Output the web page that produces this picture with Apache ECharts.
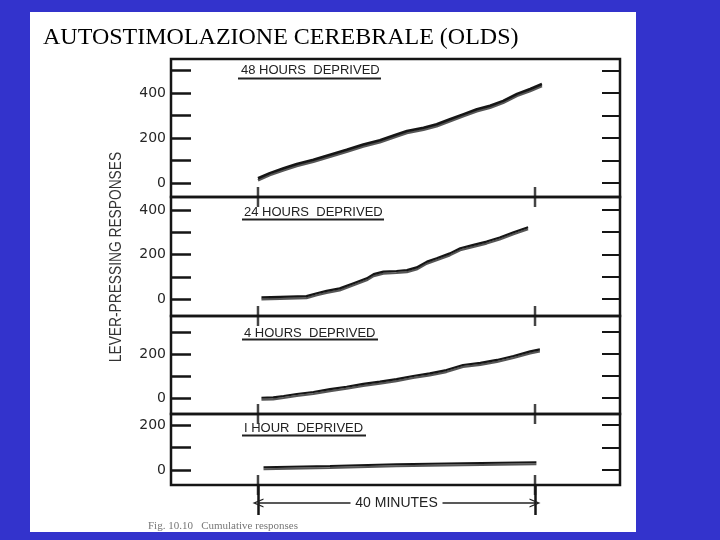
<!DOCTYPE html>
<html><head><meta charset="utf-8">
<script src="https://cdn.jsdelivr.net/npm/echarts@6/dist/echarts.min.js"></script>
<style>html,body{margin:0;padding:0;background:#3333cc}#c{width:720px;height:540px}</style>
</head><body><div id="c"></div>
<script>
// ---------- data ----------
const titleText = 'AUTOSTIMOLAZIONE CEREBRALE (OLDS)';
const yAxisTitle = 'LEVER-PRESSING RESPONSES';
const panelLabels = ['48 HOURS  DEPRIVED', '24 HOURS  DEPRIVED', '4 HOURS  DEPRIVED', 'I HOUR  DEPRIVED'];

const minutes48   = [0, 1.7, 3.7, 5.6, 8.0, 10.4, 12.8, 15.2, 17.6, 20.0, 21.5, 23.9, 25.8, 27.7, 29.7, 31.6, 33.5, 35.4, 37.4, 39.3, 41.0];
const responses48 = [21, 44, 66, 85, 103, 126, 148, 171, 190, 216, 231, 246, 261, 283, 306, 328, 343, 365, 396, 418, 440];

const minutes24   = [0.5, 3.2, 7.0, 8.5, 9.9, 11.8, 13.8, 15.7, 16.7, 18.1, 20.0, 21.5, 22.9, 24.4, 25.8, 27.7, 29.2, 31.1, 33.0, 34.9, 36.9, 39.0];
const responses24 = [8, 10, 13, 26, 37, 48, 71, 93, 112, 123, 126, 130, 142, 168, 183, 205, 228, 243, 258, 276, 300, 322];

const minutes4    = [0.5, 2.2, 3.7, 5.6, 8.0, 10.4, 12.8, 15.2, 17.6, 20.0, 22.4, 24.8, 27.2, 29.6, 32.1, 34.5, 36.9, 39.3, 40.7];
const responses4  = [1, 3, 9, 18, 27, 40, 51, 64, 74, 86, 100, 112, 127, 150, 160, 173, 191, 212, 221];

const minutes1    = [0.8, 10.4, 20.0, 29.6, 40.2];
const responses1  = [12, 18, 25, 30, 34];

const tickValues  = [[0, 100, 200, 300, 400, 500], [0, 100, 200, 300, 400], [0, 100, 200, 300], [0, 100, 200]];
const labelValues = [[0, 200, 400], [0, 200, 400], [0, 200], [0, 200]];
const markerMinutes = [0, 40];
const spanMinutes = [0, 40];
const spanLabel = '40 MINUTES';
const captionText = 'Fig. 10.10   Cumulative responses';

// ---------- layout ----------
const BLUE = '#3333cc';
const INK = '#151515';
const xMin = -12.56, xMax = 52.27;
const gridLeft = 171, gridWidth = 449;
const panels = [
  { top: 59,  height: 138, min: -62, max: 551, lw: 2.6 },
  { top: 197, height: 119, min: -76, max: 458, lw: 2.2 },
  { top: 316, height: 98,  min: -73, max: 373, lw: 2.2 },
  { top: 414, height: 71,  min: -67, max: 249, lw: 2.0 }
];
const seriesData = [
  [minutes48, responses48], [minutes24, responses24], [minutes4, responses4], [minutes1, responses1]
];
const labelPos = [
  { x: 241, y: 70,  ul: 78.5,  x1: 238, x2: 381 },
  { x: 244, y: 212, ul: 219.5, x1: 242, x2: 384 },
  { x: 244, y: 333, ul: 339.5, x1: 242, x2: 378 },
  { x: 244, y: 428, ul: 435.5, x1: 242, x2: 366 }
];

const grids = panels.map(p => ({
  left: gridLeft, width: gridWidth, top: p.top, height: p.height,
  show: true, borderColor: INK, borderWidth: 2.5, backgroundColor: 'transparent',
  containLabel: false, outerBoundsMode: 'none'
}));
grids.push({ left: gridLeft, width: gridWidth, top: 485, height: 30, show: false, containLabel: false, outerBoundsMode: 'none' });

const xAxes = grids.map((g, i) => ({ gridIndex: i, type: 'value', min: xMin, max: xMax, show: false,
  axisLine: { onZero: false } }));

const yAxes = [];
panels.forEach((p, i) => {
  yAxes.push({
    gridIndex: i, type: 'value', position: 'left', min: p.min, max: p.max,
    axisLine: { show: false, onZero: false }, splitLine: { show: false },
    axisTick: { show: true, inside: true, length: 20, customValues: tickValues[i], lineStyle: { color: INK, width: 2.5 } },
    axisLabel: { show: true, customValues: labelValues[i], margin: 5, color: '#262626',
      fontFamily: 'DejaVu Sans', fontSize: 14 }
  });
});
panels.forEach((p, i) => {
  yAxes.push({
    gridIndex: i, type: 'value', position: 'right', min: p.min, max: p.max,
    axisLine: { show: false, onZero: false }, splitLine: { show: false },
    axisTick: { show: true, inside: true, length: 18, customValues: tickValues[i], lineStyle: { color: INK, width: 2 } },
    axisLabel: { show: false }
  });
});
yAxes.push({ gridIndex: 4, type: 'value', min: 0, max: 1, show: false, axisLine: { onZero: false } });

const series = [];
panels.forEach((p, i) => {
  const [mx, ry] = seriesData[i];
  series.push({
    type: 'line', xAxisIndex: i, yAxisIndex: i, symbol: 'none', silent: true,
    data: mx.map((m, k) => [m, ry[k]]),
    lineStyle: { color: INK, width: p.lw, shadowColor: 'rgba(30,30,30,0.75)', shadowOffsetY: 2, shadowBlur: 0 },
    z: 3
  });
  series.push({
    type: 'scatter', xAxisIndex: i, yAxisIndex: i, symbol: 'rect', symbolSize: [2.5, 20], clip: false, silent: true,
    data: markerMinutes.map(m => [m, p.min]),
    itemStyle: { color: INK }, z: 4
  });
});
const chevron = 'path://M0,10 L5,0 L10,10 L8.6,10 L5,3 L1.4,10 Z';
series.push({
  type: 'line', xAxisIndex: 4, yAxisIndex: 8, data: [], silent: true,
  markLine: { silent: true, symbol: ['none', 'none'], label: { show: false },
    lineStyle: { color: INK, width: 2.5, type: 'solid' },
    data: spanMinutes.map(m => ({ xAxis: m })) }
});
series.push({
  type: 'line', xAxisIndex: 4, yAxisIndex: 8, data: [], silent: true,
  markLine: { silent: true, symbol: [chevron, chevron], symbolSize: [9, 11], label: { show: false },
    lineStyle: { color: '#222', width: 1.5, type: 'solid' },
    data: [[{ coord: [spanMinutes[0], 0.4] }, { coord: [spanMinutes[1], 0.4] }]] },
  markPoint: { silent: true, z: 8, symbol: 'rect', symbolSize: [92, 16], itemStyle: { color: '#fff' },
    label: { show: true, position: 'inside', formatter: spanLabel, color: '#222', fontSize: 14, fontFamily: 'Liberation Sans' },
    data: [{ coord: [(spanMinutes[0] + spanMinutes[1]) / 2, 0.4] }] }
});

const graphics = [
  { type: 'rect', z: -100, shape: { x: 30, y: 12, width: 606, height: 520 }, style: { fill: '#ffffff' } },
  { type: 'text', x: 117, y: 257, rotation: Math.PI / 2, scaleX: 0.86, z: 10,
    style: { text: yAxisTitle, fill: '#333', font: '16px "Liberation Sans", sans-serif', align: 'center', verticalAlign: 'middle' } },
  { type: 'text', x: 148, y: 521, z: 10,
    style: { text: captionText, fill: '#777', font: '11px "Liberation Serif", serif', align: 'left', verticalAlign: 'top' } },
  { type: 'rect', z: 200, shape: { x: 0, y: 532, width: 720, height: 8 }, style: { fill: BLUE } }
];
labelPos.forEach((lp, i) => {
  graphics.push({ type: 'text', x: lp.x, y: lp.y, z: 10,
    style: { text: panelLabels[i], fill: '#222', font: '13px "Liberation Sans", sans-serif', align: 'left', verticalAlign: 'middle' } });
  graphics.push({ type: 'line', z: 10, shape: { x1: lp.x1, y1: lp.ul, x2: lp.x2, y2: lp.ul }, style: { stroke: '#222', lineWidth: 2 } });
});

const chart = echarts.init(document.getElementById('c'), null, { renderer: 'canvas' });
chart.setOption({
  backgroundColor: BLUE,
  animation: false,
  title: { text: titleText, left: 43, top: 26, padding: 0,
    textStyle: { fontFamily: '"Liberation Serif", serif', fontSize: 24, fontWeight: 'normal', color: '#000' } },
  grid: grids, xAxis: xAxes, yAxis: yAxes, series: series,
  graphic: { elements: graphics }
});
</script></body></html>
